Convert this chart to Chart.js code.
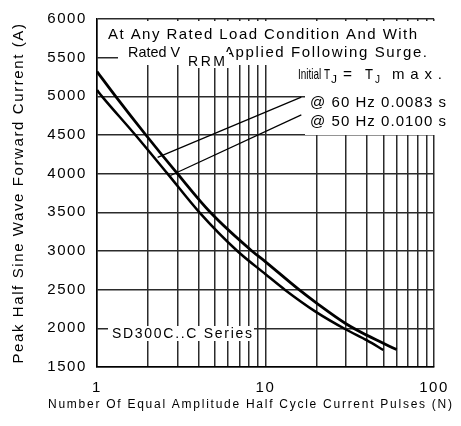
<!DOCTYPE html>
<html><head><meta charset="utf-8">
<style>html,body{margin:0;padding:0;background:#fff;}canvas{display:block;}</style>
<script src="https://cdn.jsdelivr.net/npm/chart.js@4.4.1/dist/chart.umd.min.js"></script>
</head><body>
<canvas id="c" width="461" height="426"></canvas>
<script>
// ---- data ----
const pulses60  = [1, 1.29, 1.95, 3.0, 4.7, 8.3, 10, 15.8, 20, 30, 40, 60];
const current60 = [5320, 5000, 4500, 4000, 3500, 3000, 2860, 2500, 2330, 2060, 1910, 1725];
const pulses50  = [1, 1.07, 1.69, 2.62, 4.05, 6.8, 10, 13, 20, 30, 40, 50];
const current50 = [5080, 5000, 4500, 4000, 3500, 3000, 2700, 2500, 2210, 1985, 1845, 1720];
const xTickValues = [1,2,3,4,5,6,7,8,9,10,20,30,40,50,60,70,80,90,100];
const xTickLabels = ['1','10','100'];
const yTickValues = [1500,2000,2500,3000,3500,4000,4500,5000,5500,6000];
const xTitle = 'Number Of Equal Amplitude Half Cycle Current Pulses (N)';
const yTitle = 'Peak Half Sine Wave Forward Current (A)';
const seriesNames = ['@ 60 Hz 0.0083 s', '@ 50 Hz 0.0100 s'];
const seriesLabel = 'SD300C..C Series';
// leader lines: [label end (N, A), curve end (N, A)]
const leader60 = [[16.3, 4990], [2.29, 4210]];
const leader50 = [[16.3, 4760], [2.73, 3976]];

const FONT = '"Liberation Sans", Arial, sans-serif';

function drawFit(ctx, text, x1, x2, yc, size) {
  ctx.save();
  ctx.font = size + 'px ' + FONT;
  ctx.letterSpacing = '0px';
  ctx.textAlign = 'left';
  ctx.textBaseline = 'middle';
  ctx.fillStyle = '#000';
  const w = ctx.measureText(text).width;
  const n = [...text].length;
  const target = x2 - x1;
  if (w <= target && n > 1) {
    ctx.letterSpacing = ((target - w) / (n - 1)) + 'px';
    ctx.fillText(text, x1, yc);
  } else {
    ctx.translate(x1, yc);
    ctx.scale(target / w, 1);
    ctx.fillText(text, 0, 0);
  }
  ctx.restore();
}

const overlay = {
  id: 'overlay',
  beforeUpdate(chart) { chart.ctx.letterSpacing = '1.6px'; },
  beforeDraw(chart) { chart.ctx.letterSpacing = '1.6px'; },
  beforeDatasetsDraw(chart) {
    const {ctx, chartArea: a} = chart;
    ctx.save();
    ctx.fillStyle = '#fff';
    ctx.fillRect(a.left + 21, a.top + 2, 325, 44);
    ctx.fillRect(a.left + 208, a.top + 46, 140, 70);
    ctx.fillRect(a.left + 11, a.top + 307, 146, 15);
    ctx.restore();
  },
  afterDatasetsDraw(chart) {
    const {ctx, chartArea: a, scales} = chart;
    const L = a.left, T = a.top;
    drawFit(ctx, 'At Any Rated Load Condition And With', L + 11, L + 320, T + 15.8, 15);
    drawFit(ctx, 'Rated V', L + 31, L + 83, T + 34, 15);
    drawFit(ctx, 'Applied Following Surge.', L + 127, L + 330, T + 34, 15);
    ctx.save(); ctx.fillStyle = '#fff'; ctx.fillRect(L + 89, T + 33, 43, 16); ctx.restore();
    drawFit(ctx, 'RRM', L + 91, L + 128, T + 43, 14);
    drawFit(ctx, 'Initial T', L + 201, L + 233, T + 56, 15);
    drawFit(ctx, 'J', L + 234, L + 240, T + 61, 11);
    drawFit(ctx, '=', L + 246, L + 255, T + 56, 15);
    drawFit(ctx, 'T', L + 268, L + 276, T + 56, 15);
    drawFit(ctx, 'J', L + 278, L + 283, T + 61, 11);
    drawFit(ctx, 'max.', L + 295, L + 345, T + 56, 15);
    drawFit(ctx, seriesNames[0], L + 213, L + 349, T + 84, 15);
    drawFit(ctx, seriesNames[1], L + 213, L + 349, T + 102.5, 15);
    drawFit(ctx, seriesLabel, L + 15, L + 155, T + 315, 14);
    // x-axis title (wider than the plot, so drawn here)
    drawFit(ctx, xTitle, 48, 452, chart.height - 21.5, 12);
    const xs = scales.x, ys = scales.y;
    ctx.save();
    ctx.strokeStyle = '#000';
    ctx.lineWidth = 1.2;
    [leader60, leader50].forEach(l => {
      ctx.beginPath();
      ctx.moveTo(xs.getPixelForValue(l[0][0]), ys.getPixelForValue(l[0][1]));
      ctx.lineTo(xs.getPixelForValue(l[1][0]), ys.getPixelForValue(l[1][1]));
      ctx.stroke();
    });
    ctx.restore();
  }
};

const gridOpts = {color: '#2b2b2b', lineWidth: 1.5, drawTicks: false};

new Chart(document.getElementById('c'), {
  type: 'line',
  data: {
    datasets: [
      {label: seriesNames[0], data: pulses60.map((x, i) => ({x, y: current60[i]})),
       borderColor: '#000', borderWidth: 2.8, pointRadius: 0, fill: false, cubicInterpolationMode: 'monotone'},
      {label: seriesNames[1], data: pulses50.map((x, i) => ({x, y: current50[i]})),
       borderColor: '#000', borderWidth: 2.5, pointRadius: 0, fill: false, cubicInterpolationMode: 'monotone'}
    ]
  },
  options: {
    responsive: false,
    animation: false,
    events: [],
    layout: {padding: {left: 0, right: 14, top: 15, bottom: 0}},
    plugins: {legend: {display: false}, tooltip: {enabled: false}},
    scales: {
      x: {
        type: 'logarithmic', min: 1, max: 100,
        afterBuildTicks: s => { s.ticks = xTickValues.map(v => ({value: v})); },
        afterFit: s => { s.height = 59; },
        grid: gridOpts,
        border: {display: true, color: '#000', width: 1.5},
        ticks: {
          autoSkip: false, maxRotation: 0, padding: 12, color: '#000',
          font: {family: FONT, size: 15},
          callback: v => xTickLabels.includes(String(v)) ? String(v) : ''
        },
        title: {display: false, text: xTitle}
      },
      y: {
        type: 'linear', min: 1500, max: 6000,
        afterBuildTicks: s => { s.ticks = yTickValues.map(v => ({value: v})); },
        afterFit: s => { s.width = 97; },
        grid: gridOpts,
        border: {display: true, color: '#000', width: 1.5},
        ticks: {padding: 10, color: '#000', font: {family: FONT, size: 15}, callback: v => String(v)},
        title: {display: true, text: yTitle, color: '#000', font: {family: FONT, size: 15}, padding: {top: 10, bottom: 0}}
      }
    }
  },
  plugins: [overlay]
});
</script>
</body></html>
